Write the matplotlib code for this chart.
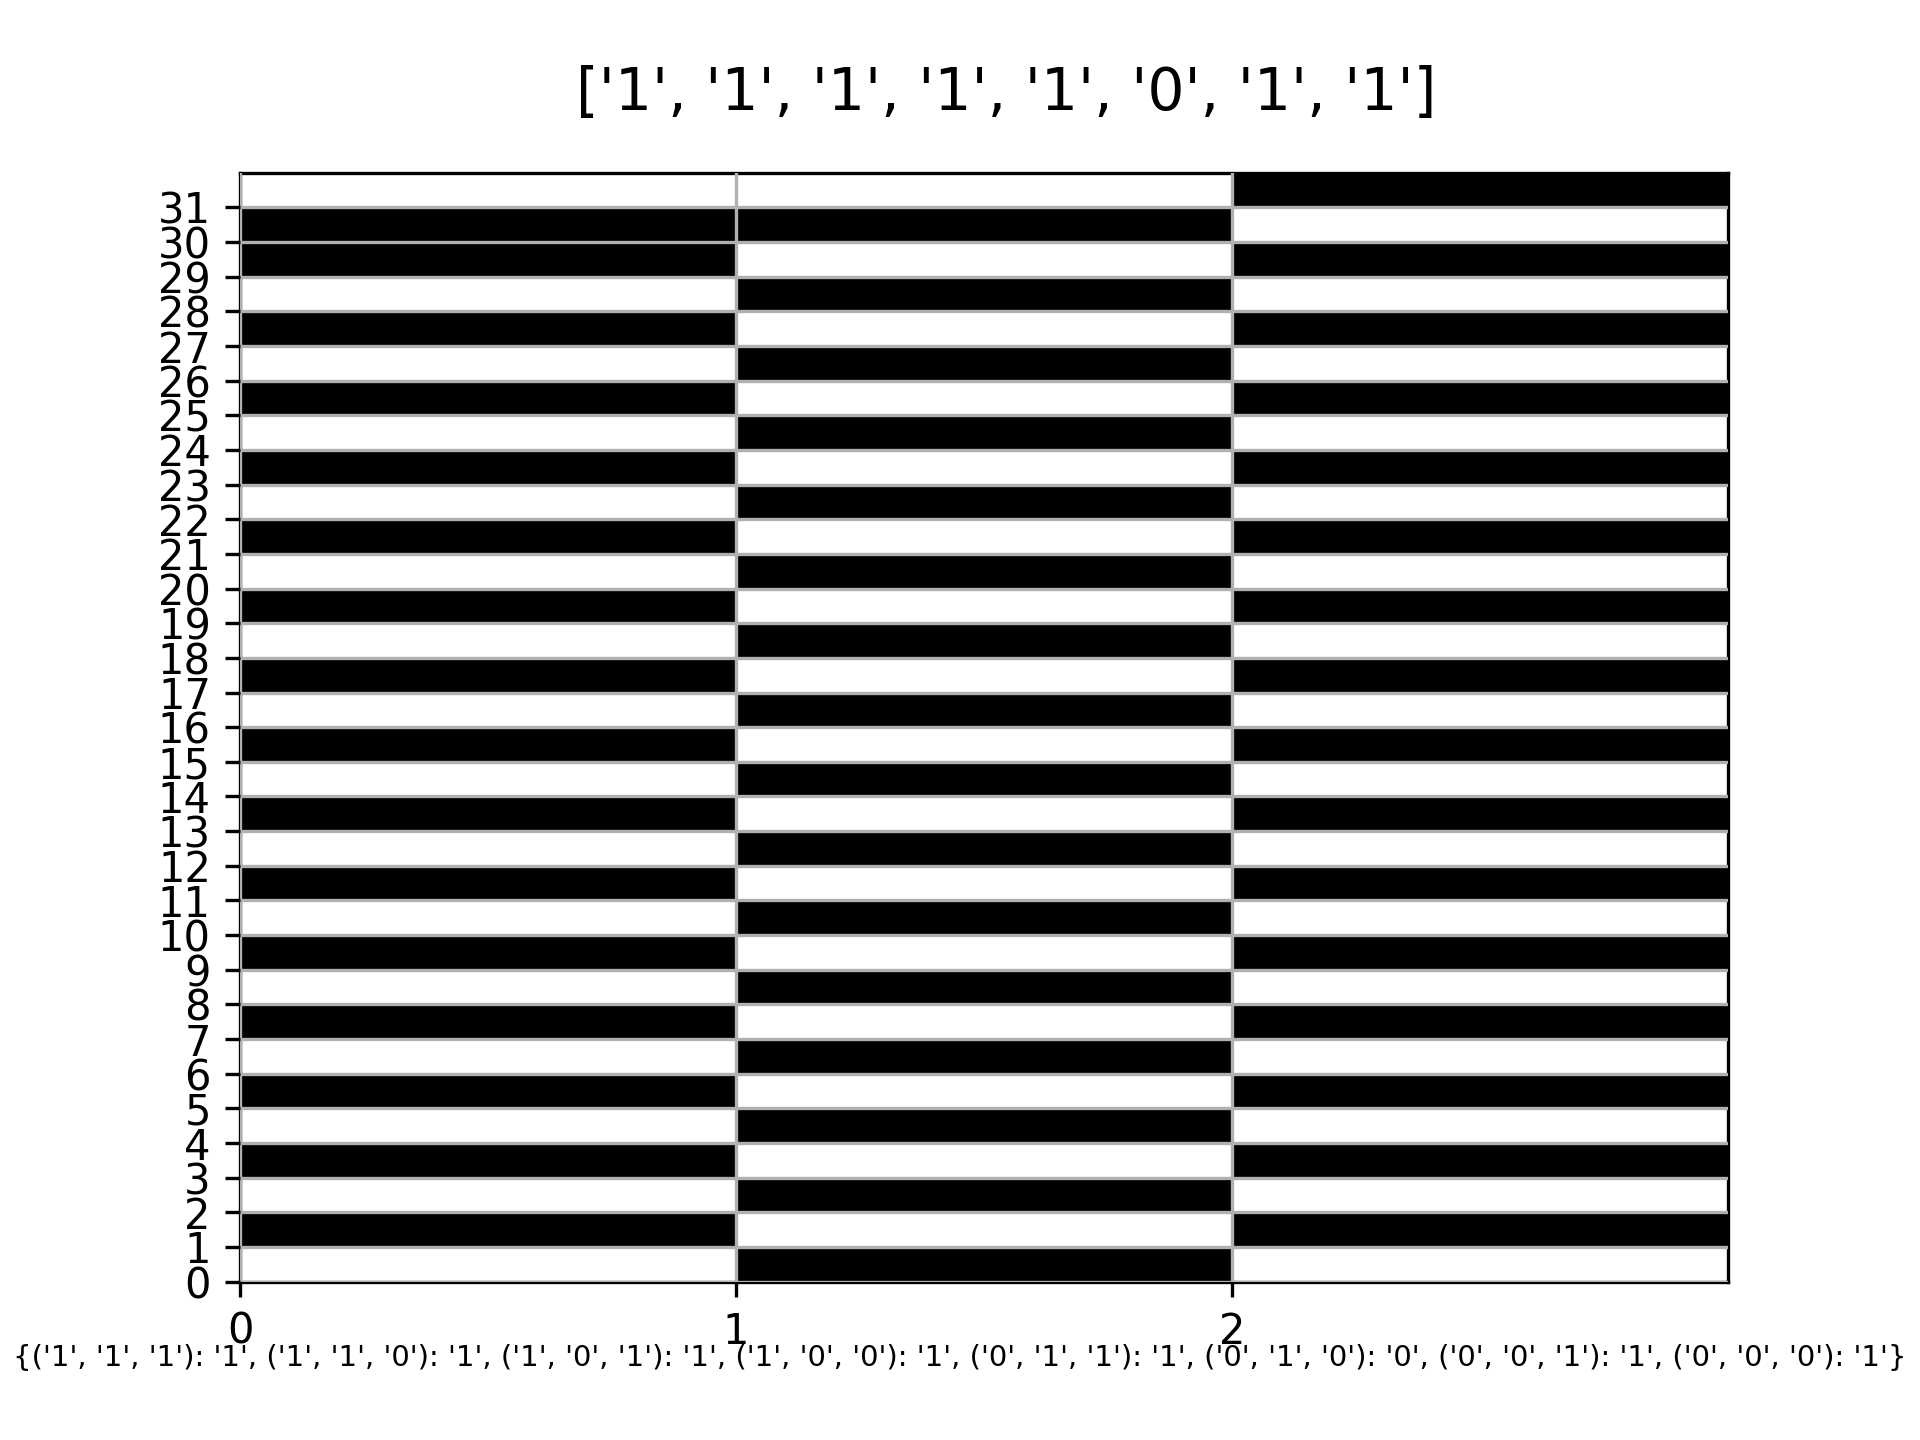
import matplotlib
matplotlib.use("Agg")
import matplotlib.pyplot as plt
import numpy as np

title_text = "['1', '1', '1', '1', '1', '0', '1', '1']"
rule_text = ("{('1', '1', '1'): '1', ('1', '1', '0'): '1', ('1', '0', '1'): '1', "
             "('1', '0', '0'): '1', ('0', '1', '1'): '1', ('0', '1', '0'): '0', "
             "('0', '0', '1'): '1', ('0', '0', '0'): '1'}")

# cell states, row 0 (bottom) to row 31 (top); columns 0,1,2
even_row = [0, 1, 0]
odd_row = [1, 0, 1]
rows = [even_row if r % 2 == 0 else odd_row for r in range(30)]
rows.append([1, 1, 0])   # row 30
rows.append([0, 0, 1])   # row 31
grid = np.array(rows)

x_ticks = [0, 1, 2]
y_ticks = list(range(32))

fig, ax = plt.subplots(figsize=(6.4, 4.8), dpi=300)
nrows, ncols = grid.shape
ax.imshow(grid, cmap="binary", origin="lower", extent=[0, ncols, 0, nrows],
          aspect="auto", interpolation="nearest", vmin=0, vmax=1)
ax.set_xticks(x_ticks)
ax.set_yticks(y_ticks)
ax.grid(True)
ax.set_axisbelow(False)
ax.set_title(title_text, fontsize=14, pad=15, x=0.515)
fig.text(0.5, 0.057, rule_text, fontsize=7, ha="center", va="center")
fig.savefig("out.png", dpi=300)
